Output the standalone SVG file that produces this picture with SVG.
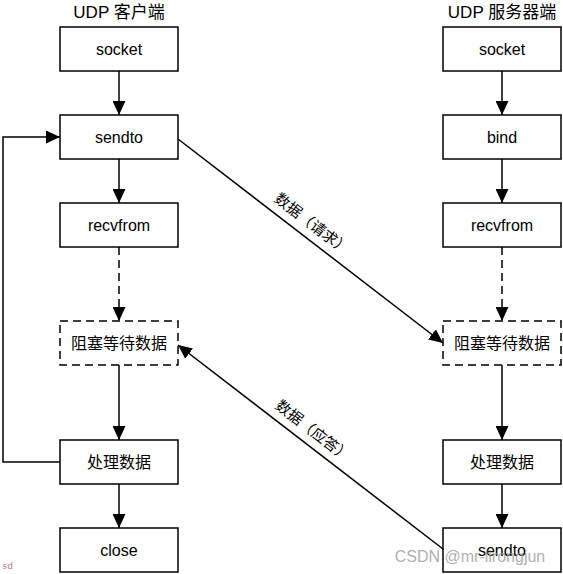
<svg xmlns="http://www.w3.org/2000/svg" width="563" height="574" viewBox="0 0 563 574">
<defs>
<marker id="ah" markerUnits="userSpaceOnUse" markerWidth="15" markerHeight="13" refX="14" refY="6.5" orient="auto">
<path d="M0,0 L14,6.5 L0,13 Z" fill="#000"/>
</marker>
<style>
.box{fill:#fff;stroke:#000;stroke-width:1.5}
.dbox{fill:#fff;stroke:#000;stroke-width:1.5;stroke-dasharray:8,5}
.t{font-family:"Liberation Sans","Noto Sans CJK SC",sans-serif;font-size:16px;text-anchor:middle;fill:#000}
.h{font-size:17px}
.c{stroke:#000;stroke-width:1.5;fill:none}
.d{stroke-dasharray:8,5}
.lbl{font-family:"Noto Sans CJK SC",sans-serif;font-size:15px;fill:#000}
</style>
</defs>
<rect width="563" height="574" fill="#fff"/>
<text class="t h" x="119" y="18">UDP 客户端</text>
<text class="t h" x="502" y="18">UDP 服务器端</text>
<g id="connectors">
<line class="c" x1="119" y1="71" x2="119" y2="115" marker-end="url(#ah)"/>
<line class="c" x1="119" y1="159" x2="119" y2="203" marker-end="url(#ah)"/>
<line class="c d" x1="119" y1="247" x2="119" y2="321" marker-end="url(#ah)"/>
<line class="c" x1="119" y1="365" x2="119" y2="440" marker-end="url(#ah)"/>
<line class="c" x1="119" y1="484" x2="119" y2="528" marker-end="url(#ah)"/>
<polyline class="c" points="60,462 3,462 3,137 60,137" marker-end="url(#ah)"/>
<line class="c" x1="502" y1="71" x2="502" y2="115" marker-end="url(#ah)"/>
<line class="c" x1="502" y1="159" x2="502" y2="203" marker-end="url(#ah)"/>
<line class="c d" x1="502" y1="247" x2="502" y2="321" marker-end="url(#ah)"/>
<line class="c" x1="502" y1="365" x2="502" y2="440" marker-end="url(#ah)"/>
<line class="c" x1="502" y1="484" x2="502" y2="528" marker-end="url(#ah)"/>
<line class="c" x1="178" y1="139" x2="443" y2="343" marker-end="url(#ah)"/>
<line class="c" x1="443" y1="549" x2="178" y2="345" marker-end="url(#ah)"/>
<text class="lbl" transform="translate(312,224) rotate(37.6)" text-anchor="middle" dy="5">数据（请求）</text>
<text class="lbl" transform="translate(313,431) rotate(37.6)" text-anchor="middle" dy="5">数据（应答）</text>
</g>
<g id="c_socket"><rect class="box" x="60" y="27" width="118" height="44"/><text class="t" x="119" y="55">socket</text></g>
<g id="c_sendto"><rect class="box" x="60" y="115" width="118" height="44"/><text class="t" x="119" y="143">sendto</text></g>
<g id="c_recvfrom"><rect class="box" x="60" y="203" width="118" height="44"/><text class="t" x="119" y="231">recvfrom</text></g>
<g id="c_block"><rect class="dbox" x="60" y="321" width="118" height="44"/><text class="t" x="119" y="349">阻塞等待数据</text></g>
<g id="c_process"><rect class="box" x="60" y="440" width="118" height="44"/><text class="t" x="119" y="468">处理数据</text></g>
<g id="c_close"><rect class="box" x="60" y="528" width="118" height="44"/><text class="t" x="119" y="556">close</text></g>
<g id="s_socket"><rect class="box" x="443" y="27" width="118" height="44"/><text class="t" x="502" y="55">socket</text></g>
<g id="s_bind"><rect class="box" x="443" y="115" width="118" height="44"/><text class="t" x="502" y="143">bind</text></g>
<g id="s_recvfrom"><rect class="box" x="443" y="203" width="118" height="44"/><text class="t" x="502" y="231">recvfrom</text></g>
<g id="s_block"><rect class="dbox" x="443" y="321" width="118" height="44"/><text class="t" x="502" y="349">阻塞等待数据</text></g>
<g id="s_process"><rect class="box" x="443" y="440" width="118" height="44"/><text class="t" x="502" y="468">处理数据</text></g>
<g id="s_sendto"><rect class="box" x="443" y="528" width="118" height="44"/><text class="t" x="502" y="556">sendto</text></g>
<text x="470" y="562" font-family="Liberation Sans, sans-serif" font-size="16" fill="#999" fill-opacity="0.8" text-anchor="middle">CSDN @mr-lirongjun</text>
<text x="2" y="569" font-family="Liberation Mono, monospace" font-size="9" fill="#c87070">sd</text>
</svg>
